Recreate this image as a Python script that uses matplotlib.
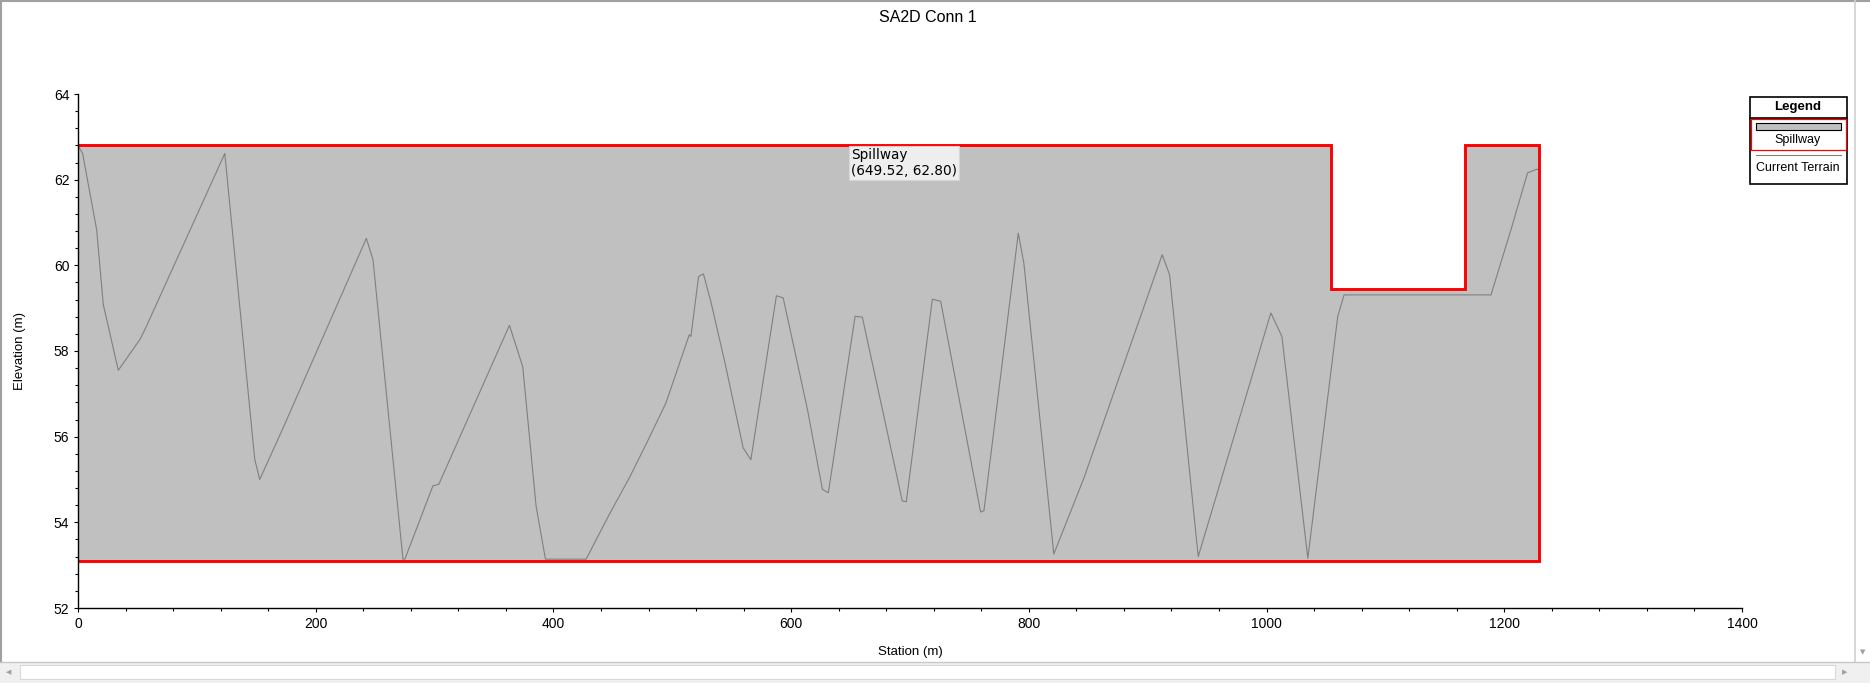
import matplotlib
matplotlib.use("Agg")
import matplotlib.pyplot as plt
from matplotlib.patches import Rectangle
from matplotlib.lines import Line2D
from matplotlib.ticker import MultipleLocator

# --- data ---
terrain_station = [0, 3.9, 15.7, 21.3, 33.9, 52.1, 56.3, 123.5, 148.7, 152.9,
                   172.5, 242.6, 248.2, 273.4, 275.0, 298.6, 303.6, 363.0, 374.2,
                   385.4, 393.3, 427.5, 447.1, 463.9, 479.3, 494.7, 514.3, 515.7,
                   522.1, 526.2, 532.4, 545.0, 559.6, 566.1, 587.6, 593.3, 613.7,
                   626.3, 631.3, 653.8, 659.9, 693.5, 696.9, 718.8, 725.8, 759.4,
                   762.2, 791.1, 795.8, 821.0, 846.4, 912.2, 918.4, 942.5, 1003.6,
                   1012.9, 1034.7, 1059.9, 1065.2, 1188.8, 1205.6, 1219.6, 1227.1,
                   1229.0]
terrain_elev = [62.8, 62.61, 60.83, 59.08, 57.55, 58.27, 58.5, 62.61, 55.47, 55.0,
                56.2, 60.63, 60.13, 53.14, 53.14, 54.85, 54.89, 58.6, 57.63,
                54.38, 53.14, 53.14, 54.19, 55.04, 55.9, 56.79, 58.38, 58.34,
                59.74, 59.8, 59.16, 57.64, 55.74, 55.46, 59.29, 59.24, 56.64,
                54.77, 54.69, 58.81, 58.79, 54.5, 54.48, 59.21, 59.16, 54.24,
                54.27, 60.75, 60.05, 53.26, 55.04, 60.25, 59.78, 53.2, 58.89,
                58.34, 53.16, 58.81, 59.31, 59.31, 60.83, 62.16, 62.24,
                62.24]

spill_station = [0, 0, 1054, 1054, 1167, 1167, 1229, 1229]
spill_elev = [53.1, 62.8, 62.8, 59.45, 59.45, 62.8, 62.8, 53.1]

probe_station = 649.52
probe_elev = 62.80

legend_labels = ["Spillway", "Current Terrain"]
title_text = "SA2D Conn 1"

W, H = 1870, 683
NARROW = ["Liberation Sans Narrow", "Liberation Sans", "DejaVu Sans"]
SANS = ["Liberation Sans", "DejaVu Sans"]


def fx(x):
    return x / W


def fy(y):
    return 1 - y / H


fig = plt.figure(figsize=(W / 100, H / 100), dpi=100)
ax = fig.add_axes([fx(78), fy(608), (1742 - 78) / W, (608 - 94) / H])

# spillway area + outline (left side sits under the axis line)
ax.fill(spill_station, spill_elev, color="#C0C0C0", lw=0, zorder=1)
ax.plot(terrain_station, terrain_elev, color="#808080", lw=0.8, zorder=2)
outline_x = spill_station[1:] + spill_station[:1]
outline_y = spill_elev[1:] + spill_elev[:1]
ax.plot(outline_x, outline_y, color="#FF0000", lw=2.1,
        solid_joinstyle="miter", zorder=3)

ax.set_xlim(0, 1400)
ax.set_ylim(52, 64)
ax.xaxis.set_major_locator(MultipleLocator(200))
ax.xaxis.set_minor_locator(MultipleLocator(40))
ax.yaxis.set_major_locator(MultipleLocator(2))
ax.yaxis.set_minor_locator(MultipleLocator(0.4))
for s in ["top", "right"]:
    ax.spines[s].set_visible(False)
for s in ["left", "bottom"]:
    ax.spines[s].set_linewidth(1.0)
    ax.spines[s].set_zorder(4)
ax.tick_params(which="major", length=3.2, width=0.8, pad=3, labelsize=10)
ax.tick_params(which="minor", length=2.0, width=0.8)
for lab in ax.get_xticklabels() + ax.get_yticklabels():
    lab.set_family(NARROW)

ax.set_xlabel("Station (m)", fontsize=9.5, family=SANS, labelpad=11)
ax.set_ylabel("Elevation (m)", fontsize=9.5, family=SANS, labelpad=20)

# probe label
ax.annotate(f"Spillway\n({probe_station:.2f}, {probe_elev:.2f})",
            xy=(probe_station, probe_elev), xytext=(1, -3),
            textcoords="offset pixels", ha="left", va="top",
            fontsize=9.8, family=["DejaVu Sans"], linespacing=1.1, zorder=5,
            bbox=dict(boxstyle="square,pad=0.15", fc="#F4F4F4", ec="#D6D6D6",
                      lw=0.8, alpha=0.9))

fig.text(fx(928), fy(17), title_text, ha="center", va="center",
         fontsize=11.5, family=SANS)

# legend drawn like the source application
fig.patches.append(Rectangle((fx(1750), fy(184)), (1847 - 1750) / W, (184 - 97) / H,
                             transform=fig.transFigure, fc="white", ec="black", lw=1.2))
fig.lines.append(Line2D([fx(1750), fx(1847)], [fy(118), fy(118)],
                        transform=fig.transFigure, color="black", lw=1.2))
fig.text(fx(1798), fy(107), "Legend", ha="center", va="center",
         fontsize=9.5, weight="bold", family=SANS)
fig.patches.append(Rectangle((fx(1751), fy(150)), (1846 - 1751) / W, (150 - 119) / H,
                             transform=fig.transFigure, fc="none", ec="#FF0000", lw=0.9))
fig.patches.append(Rectangle((fx(1756), fy(130)), (1841 - 1756) / W, (130 - 123) / H,
                             transform=fig.transFigure, fc="#C0C0C0", ec="black", lw=0.8))
fig.text(fx(1798), fy(140), legend_labels[0], ha="center", va="center",
         fontsize=9, family=SANS)
fig.lines.append(Line2D([fx(1756), fx(1841)], [fy(155), fy(155)],
                        transform=fig.transFigure, color="#808080", lw=0.8))
fig.text(fx(1798), fy(168), legend_labels[1], ha="center", va="center",
         fontsize=9, family=SANS)

# window chrome: frame and scroll bars
fig.lines.append(Line2D([0, 1], [fy(1), fy(1)], transform=fig.transFigure,
                        color="#A0A0A0", lw=1.5))
fig.lines.append(Line2D([fx(1), fx(1)], [fy(662), 1], transform=fig.transFigure,
                        color="#A0A0A0", lw=1.5))
fig.lines.append(Line2D([fx(1855), fx(1855)], [fy(662), 1], transform=fig.transFigure,
                        color="#D0D0D0", lw=1.2))
fig.patches.append(Rectangle((0, 0), 1, (683 - 662) / H, transform=fig.transFigure,
                             fc="#F0F0F0", ec="none"))
fig.patches.append(Rectangle((fx(20), fy(679)), (1835 - 20) / W, (679 - 665) / H,
                             transform=fig.transFigure, fc="white", ec="#D8D8D8", lw=0.8))
fig.lines.append(Line2D([0, 1], [fy(662), fy(662)], transform=fig.transFigure,
                        color="#C8C8C8", lw=1.0))
fig.text(fx(9), fy(672), "◀", ha="center", va="center", fontsize=5, color="#A0A0A0")
fig.text(fx(1845), fy(672), "▶", ha="center", va="center", fontsize=5, color="#A0A0A0")
fig.text(fx(1863), fy(652), "▼", ha="center", va="center", fontsize=5, color="#A0A0A0")

fig.savefig("out.png", dpi=100)
